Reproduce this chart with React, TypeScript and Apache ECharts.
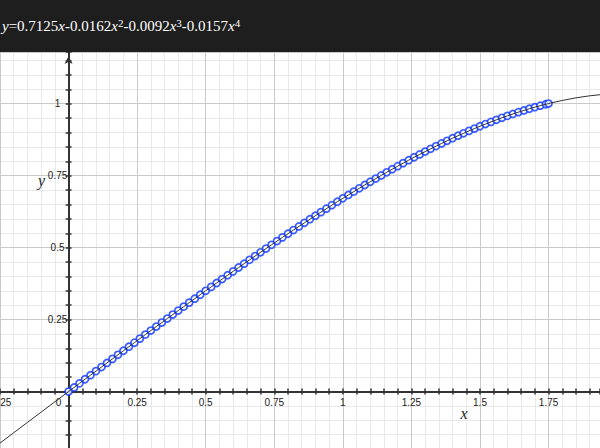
import React, { useEffect, useRef } from "react";
import * as echarts from "echarts";

// Sample points (x, y)
const pointX = [
  0, 0.02, 0.04, 0.06, 0.08, 0.1, 0.12, 0.14, 0.16, 0.18,
  0.2, 0.22, 0.24, 0.26, 0.28, 0.3, 0.32, 0.34, 0.36, 0.38,
  0.4, 0.42, 0.44, 0.46, 0.48, 0.5, 0.52, 0.54, 0.56, 0.58,
  0.6, 0.62, 0.64, 0.66, 0.68, 0.7, 0.72, 0.74, 0.76, 0.78,
  0.8, 0.82, 0.84, 0.86, 0.88, 0.9, 0.92, 0.94, 0.96, 0.98,
  1.0, 1.02, 1.04, 1.06, 1.08, 1.1, 1.12, 1.14, 1.16, 1.18,
  1.2, 1.22, 1.24, 1.26, 1.28, 1.3, 1.32, 1.34, 1.36, 1.38,
  1.4, 1.42, 1.44, 1.46, 1.48, 1.5, 1.52, 1.54, 1.56, 1.58,
  1.6, 1.62, 1.64, 1.66, 1.68, 1.7, 1.72, 1.74, 1.75,
];
const pointY = [
  0, 0.0142, 0.0285, 0.0427, 0.0569, 0.0711, 0.0852, 0.0994, 0.1135, 0.1277,
  0.1418, 0.1558, 0.1699, 0.1839, 0.1979, 0.2119, 0.2259, 0.2398, 0.2537, 0.2676,
  0.2814, 0.2952, 0.309, 0.3227, 0.3364, 0.3501, 0.3637, 0.3772, 0.3908, 0.4042,
  0.4176, 0.431, 0.4443, 0.4576, 0.4708, 0.4839, 0.4969, 0.5099, 0.5229, 0.5357,
  0.5485, 0.5612, 0.5738, 0.5863, 0.5988, 0.6111, 0.6234, 0.6355, 0.6476, 0.6596,
  0.6714, 0.6831, 0.6948, 0.7063, 0.7177, 0.7289, 0.74, 0.751, 0.7619, 0.7726,
  0.7832, 0.7937, 0.8039, 0.8141, 0.824, 0.8338, 0.8434, 0.8529, 0.8622, 0.8713,
  0.8802, 0.8889, 0.8974, 0.9057, 0.9139, 0.9218, 0.9295, 0.9369, 0.9442, 0.9512,
  0.958, 0.9645, 0.9708, 0.9768, 0.9826, 0.9881, 0.9934, 0.9983, 1.0007,
];

// Fitted curve continues outside the sample range
const curveLeftX = [-0.25, -0.2, -0.15, -0.1, -0.05];
const curveLeftY = [-0.1791, -0.1431, -0.1072, -0.0714, -0.0357];
const curveRightX = [1.8, 1.85, 1.9, 1.95, 2.0];
const curveRightY = [1.0115, 1.0205, 1.0276, 1.0326, 1.0354];

const X_MIN = -0.25;
const X_MAX = 1.9375;
const Y_MIN = -0.25;
const Y_MAX = 1.1798;
const MAJOR = 0.25;
const MINOR = 0.05;

const CHART_W = 600;
const CHART_H = 448;
const GRID_TOP = 52;
const GRID_BOTTOM = -15.5;
const GRID_H = CHART_H - GRID_TOP - GRID_BOTTOM;

const SANS = "'Liberation Sans', Arial, Helvetica, sans-serif";
const SERIF = "'Liberation Serif', 'Times New Roman', serif";
const AXIS_COLOR = "#333";
const HIDDEN_LINE = { show: true, onZero: true, onZeroAxisIndex: 0, lineStyle: { color: "rgba(0,0,0,0)", width: 0, opacity: 0 } };

function gridAxis(min: number, max: number, interval: number, z: number, color: string) {
  return {
    type: "value",
    min,
    max,
    interval,
    z,
    axisLine: { ...HIDDEN_LINE },
    axisTick: { show: false },
    axisLabel: { show: false },
    splitLine: { show: true, lineStyle: { color, width: 1 } },
  };
}

function tickAxis(min: number, max: number, inside: boolean, showLine: boolean, extraLine: any = {}) {
  return {
    type: "value",
    min,
    max,
    interval: MINOR,
    z: 3,
    axisLine: showLine
      ? {
          show: true,
          onZero: true,
          onZeroAxisIndex: 0,
          lineStyle: { color: AXIS_COLOR, width: 2 },
          ...extraLine,
        }
      : { ...HIDDEN_LINE },
    axisTick: { show: true, inside, length: 3, lineStyle: { color: AXIS_COLOR, width: 1.5 } },
    axisLabel: { show: false },
    splitLine: { show: false },
  };
}

export default function App() {
  const ref = useRef<HTMLDivElement>(null);

  useEffect(() => {
    if (!ref.current) return;
    const chart = echarts.init(ref.current, undefined, { renderer: "svg" });

    const curveData: number[][] = [];
    curveLeftX.forEach((x, i) => curveData.push([x, curveLeftY[i]]));
    pointX.forEach((x, i) => curveData.push([x, pointY[i]]));
    curveRightX.forEach((x, i) => curveData.push([x, curveRightY[i]]));
    const scatterData = pointX.map((x, i) => [x, pointY[i]]);

    // distance from grid edge to the zero line (labels ride along the axes at zero)
    const xLabelOffset = -((0 - Y_MIN) / (Y_MAX - Y_MIN)) * GRID_H;
    const yLabelOffset = -((0 - X_MIN) / (X_MAX - X_MIN)) * CHART_W;

    const xMajor: any = gridAxis(X_MIN, X_MAX, MAJOR, 1, "#c9c9c9");
    xMajor.axisLine = { show: false, onZero: false };
    xMajor.offset = xLabelOffset;
    xMajor.axisLabel = {
      show: true,
      showMaxLabel: false,
      margin: 6,
      color: "#222",
      fontSize: 10,
      fontFamily: SANS,
      formatter: (v: number) => (Math.abs(v) < 1e-9 ? "{z|0}" : String(v)),
      rich: { z: { padding: [0, 20, 0, 0], fontSize: 10, fontFamily: SANS, color: "#222" } },
    };

    const yMajor: any = gridAxis(Y_MIN, Y_MAX, MAJOR, 1, "#c9c9c9");
    yMajor.axisLine = { show: false, onZero: false };
    yMajor.offset = yLabelOffset;
    yMajor.axisLabel = {
      show: true,
      showMaxLabel: false,
      margin: 11,
      align: "center",
      verticalAlign: "middle",
      padding: [4, 0, 0, 0],
      color: "#222",
      fontSize: 10,
      fontFamily: SANS,
      formatter: (v: number) => (Math.abs(v) < 1e-9 || v < 0 ? "" : String(v)),
    };

    const option: any = {
      animation: false,
      backgroundColor: "#ffffff",
      grid: { left: 0, right: 0, top: GRID_TOP, bottom: GRID_BOTTOM, containLabel: false, outerBoundsMode: "none" },
      xAxis: [
        { ...gridAxis(X_MIN, X_MAX, MINOR, 0, "#e9e9e9"), position: "bottom" },
        { ...xMajor, position: "bottom" },
        { ...tickAxis(X_MIN, X_MAX, false, true), position: "bottom" },
        { ...tickAxis(X_MIN, X_MAX, true, false), position: "bottom" },
      ],
      yAxis: [
        { ...gridAxis(Y_MIN, Y_MAX, MINOR, 0, "#e9e9e9"), position: "left" },
        { ...yMajor, position: "left" },
        {
          ...tickAxis(Y_MIN, Y_MAX, false, true, {
            symbol: ["none", "arrow"],
            symbolSize: [6, 8],
            symbolOffset: [0, -4],
          }),
          position: "left",
        },
        { ...tickAxis(Y_MIN, Y_MAX, true, false), position: "left" },
      ],
      series: [
        {
          type: "scatter",
          xAxisIndex: 0,
          yAxisIndex: 0,
          data: scatterData,
          symbol: "circle",
          symbolSize: 7,
          itemStyle: { color: "#ffffff", borderColor: "#0a33ff", borderWidth: 1.7 },
          z: 10,
          silent: true,
        },
        {
          type: "line",
          xAxisIndex: 0,
          yAxisIndex: 0,
          data: curveData,
          showSymbol: false,
          smooth: false,
          lineStyle: { color: "#333", width: 1 },
          z: 11,
          silent: true,
        },
      ],
      graphic: [
        {
          type: "rect",
          left: 0,
          top: 0,
          z: 100,
          shape: { width: 600, height: 52 },
          style: { fill: "#1e1e1e" },
        },
        {
          type: "text",
          left: 2,
          top: 17,
          z: 101,
          style: {
            text:
              "{i|y}{n|=0.7125}{i|x}{n|-0.0162}{i|x}{s|2}{n|-0.0092}{i|x}{s|3}{n|-0.0157}{i|x}{s|4}",
            fill: "#ffffff",
            fontFamily: SERIF,
            fontSize: 15,
            rich: {
              i: { fontFamily: SERIF, fontSize: 15, fontStyle: "italic", fill: "#ffffff", verticalAlign: "bottom" },
              n: { fontFamily: SERIF, fontSize: 15, fill: "#ffffff", verticalAlign: "bottom" },
              s: { fontFamily: SERIF, fontSize: 11, fill: "#ffffff", verticalAlign: "bottom", padding: [0, 0, 5, 0] },
            },
          },
        },
        {
          type: "text",
          x: 464,
          y: 413,
          z: 50,
          style: {
            text: "x",
            fontFamily: SERIF,
            fontStyle: "italic",
            fontSize: 16,
            fill: "#222",
            align: "center",
            verticalAlign: "middle",
          },
        },
        {
          type: "text",
          x: 41.5,
          y: 180,
          z: 50,
          style: {
            text: "y",
            fontFamily: SERIF,
            fontStyle: "italic",
            fontSize: 16,
            fill: "#222",
            align: "center",
            verticalAlign: "middle",
          },
        },
      ],
    };

    chart.setOption(option);
    return () => chart.dispose();
  }, []);

  return (
    <div
      ref={ref}
      style={{ position: "fixed", left: 0, top: 0, width: CHART_W, height: CHART_H, background: "#fff" }}
    />
  );
}
